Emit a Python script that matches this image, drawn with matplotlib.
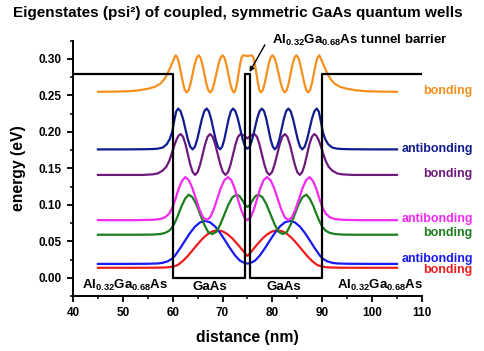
#!/usr/bin/env python3
"""Eigenstates (psi^2) of two coupled, symmetric GaAs quantum wells, values read off the reference."""
import matplotlib
matplotlib.use('Agg')
import matplotlib.pyplot as plt
from matplotlib.ticker import MultipleLocator

# conduction band edge (nm, eV)
pot_x = [40, 60, 60, 74.5, 74.5, 75.5, 75.5, 90, 90, 110]
pot_y = [0.279, 0.279, 0, 0, 0.279, 0.279, 0, 0, 0.279, 0.279]

# each state: (distance nm, energy + psi^2 eV)
red = [(45, .0137), (52, .0137), (56, .0138), (58, .0140), (59, .0143), (60, .0152), (61, .0174), (62, .0227),
       (63, .0297), (64, .0378), (65, .0461), (66, .0537), (67, .0597), (68, .0637), (69, .0650), (70, .0637),
       (71, .0597), (72, .0537), (73, .0461), (74, .0378), (74.5, .0337), (75, .0300), (75.5, .0337), (76, .0378),
       (77, .0461), (78, .0537), (79, .0597), (80, .0637), (81, .0650), (82, .0637), (83, .0597), (84, .0537),
       (85, .0461), (86, .0378), (87, .0297), (88, .0227), (89, .0174), (90, .0152), (91, .0143), (92, .0140),
       (94, .0138), (98, .0137), (105, .0137)]

blue = [(45, .019), (50, .019), (55, .0192), (57, .0196), (58, .0205), (59, .0225), (60, .0267), (60.5, .0307),
        (61.5, .0405), (62.5, .0512), (63.5, .0616), (64.5, .0703), (65.5, .0760), (66.5, .0780), (67.5, .0760),
        (68.5, .0703), (69.5, .0616), (70.5, .0512), (71.5, .0405), (72.5, .0307), (73.5, .0234), (74.5, .0200),
        (75, .0195), (75.5, .0200), (76.5, .0234), (77.5, .0307), (78.5, .0405), (79.5, .0512), (80.5, .0616),
        (81.5, .0703), (82.5, .0760), (83.5, .0780), (84.5, .0760), (85.5, .0703), (86.5, .0616), (87.5, .0512),
        (88.5, .0405), (89.5, .0307), (90, .0267), (91, .0225), (92, .0205), (93, .0196), (95, .0192), (100, .019),
        (105, .019)]

green = [(45, .059), (53, .059), (56, .0592), (57.5, .0600), (58.5, .0615), (59.3, .0645), (60.0, .0700),
         (60.6, .0780), (61.2, .0880), (61.8, .0985), (62.5, .1085), (63.2, .1140), (63.98, .1103), (64.77, .1003),
         (65.55, .0865), (66.33, .0728), (67.12, .0627), (67.9, .0600), (68.72, .0627), (69.53, .0728),
         (70.35, .0865), (71.17, .1003), (71.98, .1103), (72.8, .1140), (73.4, .1120), (74.0, .1060), (74.5, .1000),
         (75.0, .0970), (75.5, .1000), (76.0, .1060), (76.6, .1120), (77.2, .1140), (78.02, .1103), (78.83, .1003),
         (79.65, .0865), (80.47, .0728), (81.28, .0627), (82.1, .0600), (82.88, .0627), (83.67, .0728),
         (84.45, .0865), (85.23, .1003), (86.02, .1103), (86.8, .1140), (87.5, .1085), (88.2, .0985), (88.8, .0880),
         (89.4, .0780), (90.0, .0700), (90.7, .0645), (91.5, .0615), (92.5, .0600), (94, .0592), (97, .059),
         (105, .059)]

pink = [(45, .079), (53, .079), (56, .0795), (57.5, .0805), (58.5, .0830), (59.3, .0880), (60.0, .0970),
        (60.6, .1090), (61.2, .1220), (61.8, .1320), (62.5, .1380), (63.22, .1340), (63.93, .1233), (64.65, .1085),
        (65.37, .0938), (66.08, .0830), (66.8, .0790), (67.52, .0830), (68.23, .0938), (68.95, .1085),
        (69.67, .1233), (70.38, .1340), (71.1, .1380), (71.75, .1340), (72.4, .1233), (73.05, .1085), (73.7, .0938),
        (74.35, .0830), (75.0, .0790), (75.65, .0830), (76.3, .0938), (76.95, .1085), (77.6, .1233), (78.25, .1340),
        (78.9, .1380), (79.62, .1340), (80.33, .1233), (81.05, .1085), (81.77, .0938), (82.48, .0830), (83.2, .0790),
        (83.92, .0830), (84.63, .0938), (85.35, .1085), (86.07, .1233), (86.78, .1340), (87.5, .1380), (88.2, .1320),
        (88.8, .1220), (89.4, .1090), (90.0, .0970), (90.7, .0880), (91.5, .0830), (92.5, .0805), (94, .0795),
        (97, .079), (105, .079)]

purple = [(45, .141), (54, .141), (56, .1418), (57, .143), (58, .147), (58.7, .152), (59.3, .160), (59.8, .170),
          (60.3, .181), (60.8, .190), (61.2, .195), (61.6, .197), (62.08, .1933), (62.57, .183), (63.05, .169),
          (63.53, .155), (64.02, .1448), (64.5, .141), (65.0, .1448), (65.5, .155), (66.0, .169), (66.5, .183),
          (67.0, .1933), (67.5, .197), (68.02, .1933), (68.53, .183), (69.05, .169), (69.57, .155), (70.08, .1448),
          (70.6, .141), (71.1, .1448), (71.6, .155), (72.1, .169), (72.6, .183), (73.1, .1933), (73.6, .197),
          (74.3, .195), (75.0, .191), (75.7, .195), (76.4, .197), (76.9, .1933), (77.4, .183), (77.9, .169),
          (78.4, .155), (78.9, .1448), (79.4, .141), (79.92, .1448), (80.43, .155), (80.95, .169), (81.47, .183),
          (81.98, .1933), (82.5, .197), (83.0, .1933), (83.5, .183), (84.0, .169), (84.5, .155), (85.0, .1448),
          (85.5, .141), (85.98, .1448), (86.47, .155), (86.95, .169), (87.43, .183), (87.92, .1933), (88.4, .197),
          (88.8, .195), (89.2, .190), (89.7, .181), (90.2, .170), (90.7, .160), (91.3, .152), (92.0, .147),
          (93.0, .143), (94.0, .1418), (96, .141), (105, .141)]

navy = [(45, .176), (50, .176), (54, .1762), (56, .1765), (57, .177), (58, .1785), (58.8, .183), (59.4, .190),
        (59.9, .200), (60.3, .215), (60.7, .228), (61.1, .232), (61.58, .2283), (62.07, .218), (62.55, .204),
        (63.03, .190), (63.52, .1798), (64.0, .176), (64.47, .1798), (64.93, .190), (65.4, .204), (65.87, .218),
        (66.33, .2283), (66.8, .232), (67.25, .2283), (67.7, .218), (68.15, .204), (68.6, .190), (69.05, .1798),
        (69.5, .176), (69.93, .1798), (70.37, .190), (70.8, .204), (71.23, .218), (71.67, .2283), (72.1, .232),
        (72.58, .2283), (73.07, .218), (73.55, .204), (74.03, .190), (74.52, .1798), (75.0, .177), (75.48, .1798),
        (75.97, .190), (76.45, .204), (76.93, .218), (77.42, .2283), (77.9, .232), (78.33, .2283), (78.77, .218),
        (79.2, .204), (79.63, .190), (80.07, .1798), (80.5, .176), (80.95, .1798), (81.4, .190), (81.85, .204),
        (82.3, .218), (82.75, .2283), (83.2, .232), (83.67, .2283), (84.13, .218), (84.6, .204), (85.07, .190),
        (85.53, .1798), (86.0, .176), (86.48, .1798), (86.97, .190), (87.45, .204), (87.93, .218), (88.42, .2283),
        (88.9, .232), (89.3, .228), (89.7, .215), (90.1, .200), (90.6, .190), (91.2, .183), (92.0, .1785),
        (93.0, .177), (94, .1765), (96, .1762), (100, .176), (105, .176)]

orange = [(45, .2550), (48, .2552), (51, .2557), (53, .2568), (55, .2590), (56.5, .2620), (57.5, .2660),
          (58.3, .2720), (58.9, .2790), (59.5, .2880), (60.0, .2960), (60.3, .3010), (60.6, .3050), (60.97, .3016),
          (61.33, .2923), (61.7, .2795), (62.07, .2668), (62.43, .2574), (62.8, .2540), (63.2, .2574), (63.6, .2668),
          (64.0, .2795), (64.4, .2923), (64.8, .3016), (65.2, .3050), (65.58, .3016), (65.97, .2923), (66.35, .2795),
          (66.73, .2668), (67.12, .2574), (67.5, .2540), (67.92, .2574), (68.33, .2668), (68.75, .2795),
          (69.17, .2923), (69.58, .3016), (70.0, .3050), (70.38, .3016), (70.77, .2923), (71.15, .2795),
          (71.53, .2668), (71.92, .2574), (72.3, .2540), (72.6, .2574), (72.9, .2668), (73.2, .2795), (73.5, .2923),
          (73.8, .3016), (74.1, .3050), (74.6, .3045), (75.0, .3040), (75.4, .3045), (75.9, .3050), (76.2, .3016),
          (76.5, .2923), (76.8, .2795), (77.1, .2668), (77.4, .2574), (77.7, .2540), (78.08, .2574), (78.47, .2668),
          (78.85, .2795), (79.23, .2923), (79.62, .3016), (80.0, .3050), (80.42, .3016), (80.83, .2923),
          (81.25, .2795), (81.67, .2668), (82.08, .2574), (82.5, .2540), (82.88, .2574), (83.27, .2668),
          (83.65, .2795), (84.03, .2923), (84.42, .3016), (84.8, .3050), (85.2, .3016), (85.6, .2923), (86.0, .2795),
          (86.4, .2668), (86.8, .2574), (87.2, .2540), (87.57, .2574), (87.93, .2668), (88.3, .2795), (88.67, .2923),
          (89.03, .3016), (89.4, .3050), (89.7, .3010), (90.0, .2960), (90.5, .2880), (91.1, .2790), (91.7, .2720),
          (92.5, .2660), (93.5, .2620), (95, .2590), (97, .2568), (99, .2557), (102, .2552), (105, .2550)]

# (points, colour, label, label energy)
states = [
    (red, '#EE1C1C', 'bonding', 0.0108),
    (blue, '#1A1AF0', 'antibonding', 0.0254),
    (green, '#1C7E1C', 'bonding', 0.0610),
    (pink, '#F22AF2', 'antibonding', 0.0805),
    (purple, '#6E1A7C', 'bonding', 0.1420),
    (navy, '#121C8E', 'antibonding', 0.1760),
    (orange, '#F5901E', 'bonding', 0.2557),
]

plt.rcParams['font.family'] = ['Liberation Sans', 'DejaVu Sans']
plt.rcParams['font.weight'] = 'bold'
plt.rcParams['mathtext.fontset'] = 'custom'
plt.rcParams['mathtext.rm'] = 'Liberation Sans'
plt.rcParams['mathtext.bf'] = 'Liberation Sans:bold'

fig = plt.figure(figsize=(4.85, 3.51), dpi=100)
ax = fig.add_axes([0.1505, 0.1567, 0.7195, 0.7273])

for pts, col, name, ylab in states:
    x, y = zip(*pts)
    ax.plot(x, y, color=col, lw=1.6, zorder=2)
    ax.text(120.2, ylab, name, color=col, ha='right', va='center', fontsize=9, fontweight='bold')
ax.plot(pot_x, pot_y, color='black', lw=1.6, zorder=3)

al = r'Al$_{\mathbf{0.32}}$Ga$_{\mathbf{0.68}}$As'
ax.text(41.9, -0.0105, al, ha='left', va='center', fontsize=9.5, fontweight='bold')
ax.text(93.0, -0.0105, al, ha='left', va='center', fontsize=9.5, fontweight='bold')
ax.text(67.4, -0.0130, 'GaAs', ha='center', va='center', fontsize=9.5, fontweight='bold')
ax.text(82.3, -0.0130, 'GaAs', ha='center', va='center', fontsize=9.5, fontweight='bold')
ax.annotate(al + ' tunnel barrier', xy=(75.4, 0.282), xytext=(79.9, 0.3255),
            ha='left', va='center', fontsize=9.5, fontweight='bold', annotation_clip=False,
            arrowprops=dict(arrowstyle='-|>', color='black', lw=1.0, mutation_scale=7,
                            relpos=(-0.04, 0.2), shrinkA=0, shrinkB=0))

ax.set_xlim(40, 110); ax.set_ylim(-0.025, 0.325)
ax.xaxis.set_major_locator(MultipleLocator(10)); ax.xaxis.set_minor_locator(MultipleLocator(5))
ax.yaxis.set_major_locator(MultipleLocator(0.05)); ax.yaxis.set_minor_locator(MultipleLocator(0.025))
ax.yaxis.set_major_formatter(plt.FormatStrFormatter('%.2f'))
for s in ('top', 'right'):
    ax.spines[s].set_visible(False)
for s in ('left', 'bottom'):
    ax.spines[s].set_linewidth(1.4)
ax.tick_params(which='major', length=4.5, width=1.3, labelsize=8.5)
ax.tick_params(which='minor', length=2.5, width=1.1)
for lab in ax.get_xticklabels() + ax.get_yticklabels():
    lab.set_fontweight('bold')
ax.set_xlabel('distance (nm)', fontsize=11.3, fontweight='bold', labelpad=8)
ax.set_ylabel('energy (eV)', fontsize=11.3, fontweight='bold', labelpad=9)
fig.text(0.49, 0.963, 'Eigenstates (psi\u00b2) of coupled, symmetric GaAs quantum wells',
         ha='center', va='center', fontsize=11.0, fontweight='bold')

fig.savefig('out.png', dpi=100)
